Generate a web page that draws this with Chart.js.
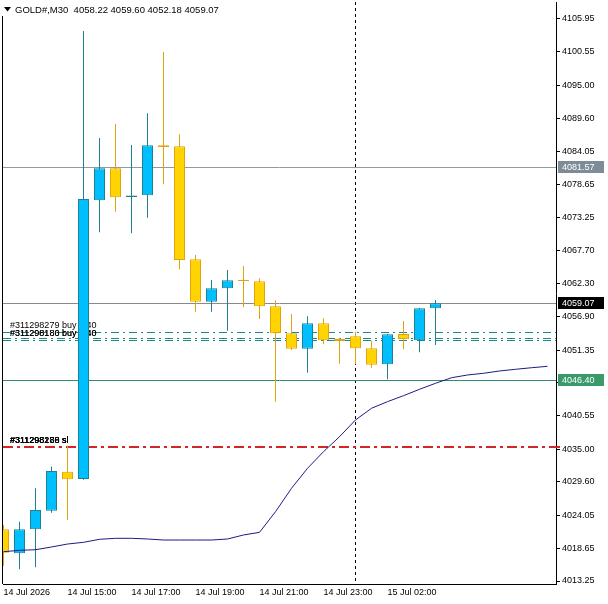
<!DOCTYPE html>
<html>
<head>
<meta charset="utf-8">
<script src="https://cdn.jsdelivr.net/npm/chart.js@4.4.1/dist/chart.umd.min.js"></script>
<style>
  html, body { margin: 0; padding: 0; background: #fff; }
  canvas { display: block; }
</style>
</head>
<body>
<canvas id="goldChart" width="608" height="604"></canvas>
<script>
// GOLD#, M30 candles (14 Jul 13:00 .. 15 Jul 03:30)
const times = ['14 Jul 13:00', '14 Jul 13:30', '14 Jul 14:00', '14 Jul 14:30', '14 Jul 15:00', '14 Jul 15:30',
  '14 Jul 16:00', '14 Jul 16:30', '14 Jul 17:00', '14 Jul 17:30', '14 Jul 18:00', '14 Jul 18:30',
  '14 Jul 19:00', '14 Jul 19:30', '14 Jul 20:00', '14 Jul 20:30', '14 Jul 21:00', '14 Jul 21:30',
  '14 Jul 22:00', '14 Jul 22:30', '14 Jul 23:00', '14 Jul 23:30', '15 Jul 01:00', '15 Jul 01:30',
  '15 Jul 02:00', '15 Jul 02:30', '15 Jul 03:00', '15 Jul 03:30'];
const opens = [4021.78, 4017.82, 4021.78, 4024.85, 4031.28, 4030.08, 4076.05, 4081.32, 4076.59, 4076.87,
  4085.12, 4084.95, 4066.31, 4059.32, 4061.53, 4062.92, 4062.68, 4058.56, 4054.11, 4051.57,
  4055.76, 4053.17, 4053.61, 4051.63, 4048.99, 4053.99, 4052.95, 4058.22];
const highs = [4022.49, 4023.03, 4028.54, 4032.10, 4035.57, 4103.97, 4086.32, 4088.63, 4085.17, 4090.40,
  4100.51, 4086.93, 4067.02, 4062.90, 4064.55, 4065.21, 4063.18, 4059.55, 4057.29, 4056.91,
  4056.58, 4053.38, 4054.37, 4052.89, 4054.00, 4056.14, 4058.30, 4059.60];
const lows = [4015.73, 4015.18, 4015.51, 4024.52, 4023.31, 4029.95, 4070.77, 4074.16, 4070.60, 4073.18,
  4078.68, 4064.66, 4057.67, 4057.67, 4054.54, 4058.40, 4056.47, 4042.82, 4051.35, 4047.61,
  4052.29, 4049.09, 4048.99, 4048.43, 4046.52, 4051.47, 4050.97, 4052.18];
const closes = [4017.92, 4021.78, 4024.96, 4031.39, 4030.03, 4076.26, 4081.32, 4076.54, 4076.84, 4085.12,
  4084.82, 4066.20, 4059.32, 4061.53, 4062.85, 4062.75, 4058.56, 4054.11, 4051.57, 4055.76,
  4052.95, 4052.84, 4051.63, 4048.93, 4053.94, 4053.12, 4058.23, 4059.07];

// shifted moving average (runs 7 bars past the last candle)
const maValues = [4018.08, 4018.31, 4018.41, 4018.86, 4019.35, 4019.63, 4020.13, 4020.29, 4020.29, 4020.18,
  4020.01, 4020.01, 4020.01, 4020.01, 4020.18, 4020.84, 4021.28, 4024.68, 4028.54, 4031.84,
  4034.58, 4037.05, 4039.81, 4041.74, 4042.83, 4043.82, 4044.87, 4045.86, 4046.78, 4047.23,
  4047.51, 4047.89, 4048.17, 4048.43, 4048.66];

const priceTicks = [4105.95, 4100.55, 4095.00, 4089.60, 4084.05, 4078.65, 4073.25, 4067.70, 4062.30,
  4056.90, 4051.35, 4045.95, 4040.55, 4035.00, 4029.60, 4024.05, 4018.65, 4013.25];
const timeTickIndex = [0, 4, 8, 12, 16, 20, 24];
const timeTickLabels = ['14 Jul 2026', '14 Jul 15:00', '14 Jul 17:00', '14 Jul 19:00', '14 Jul 21:00', '14 Jul 23:00', '15 Jul 02:00'];

const levelPrices = [4081.57, 4059.07, 4046.40];
const buyLevels = [4054.24, 4053.38, 4053.05];
const buyTickets = ['#311298279', '#311298180', '#311298186'];
const slLevel = 4035.35;
const slTickets = ['#311298180', '#311298186', '#311298279', '#311298288'];
const separatorIndex = 22;

const upFill = '#00bfff', upLine = '#1d8191';
const downFill = '#ffd400', downLine = '#e3a210';
const font = 'Liberation Sans';

const isUp = opens.map((o, i) => closes[i] >= o);

const overlay = {
  id: 'overlay',
  beforeDatasetsDraw(chart) {
    const { ctx, chartArea: a, scales: { x, y } } = chart;
    ctx.save();
    ctx.beginPath();
    ctx.rect(a.left, a.top, a.right - a.left, a.bottom - a.top);
    ctx.clip();

    const hline = (p, color, width, dash) => {
      const py = Math.round(y.getPixelForValue(p)) + (width % 2 ? 0.5 : 0);
      ctx.strokeStyle = color;
      ctx.lineWidth = width;
      ctx.setLineDash(dash);
      ctx.beginPath();
      ctx.moveTo(a.left, py);
      ctx.lineTo(a.right, py);
      ctx.stroke();
      return py;
    };

    // day separator
    const sx = Math.floor(x.getPixelForValue(separatorIndex)) + 0.5;
    ctx.strokeStyle = '#000';
    ctx.lineWidth = 1;
    ctx.setLineDash([3, 3]);
    ctx.beginPath();
    ctx.moveTo(sx, a.top);
    ctx.lineTo(sx, a.bottom);
    ctx.stroke();

    hline(levelPrices[0], '#8d9ba4', 1, []);
    hline(levelPrices[1], '#8a8a8a', 1, []);
    hline(levelPrices[2], '#2f8c72', 1, []);

    ctx.font = '9px "' + font + '"';
    ctx.fillStyle = '#000';
    ctx.textBaseline = 'alphabetic';
    buyLevels.forEach((p, i) => {
      const py = hline(p, '#17898c', 1, [8, 4, 2, 4]);
      ctx.fillText(buyTickets[i] + ' buy 0.40', 10, i === 0 ? py - 5 : y.getPixelForValue(buyLevels[1]) - 1.5);
    });

    const ry = hline(slLevel, '#d42626', 2, [10, 4, 3, 4]);
    slTickets.forEach(t => ctx.fillText(t + ' sl', 10, ry - 4));
    ctx.restore();
  },
  afterDraw(chart) {
    const { ctx, chartArea: a, scales: { y } } = chart;
    ctx.save();
    // left frame
    ctx.fillStyle = '#000';
    ctx.fillRect(Math.round(a.left) - 1, 16, 1, a.bottom - 16);
    // red sl tick on the price axis
    ctx.fillStyle = '#d42626';
    ctx.fillRect(a.right, Math.round(y.getPixelForValue(slLevel)) - 1, 4, 2);

    // header
    const n = closes.length - 1;
    ctx.fillStyle = '#000';
    ctx.beginPath();
    ctx.moveTo(4, 7); ctx.lineTo(11, 7); ctx.lineTo(7.5, 11.5); ctx.closePath();
    ctx.fill();
    ctx.font = '9.5px "' + font + '"';
    ctx.textBaseline = 'middle';
    ctx.fillText('GOLD#,M30  ' + [opens[n], highs[n], lows[n], closes[n]].map(v => v.toFixed(2)).join(' '), 15, 10);

    // price tags
    const tags = [
      { p: levelPrices[0], bg: '#7d8c96' },
      { p: closes[n], bg: '#000000' },
      { p: levelPrices[2], bg: '#3a9a6c' }
    ];
    ctx.font = '9px "' + font + '"';
    tags.forEach(t => {
      const py = Math.round(y.getPixelForValue(t.p));
      ctx.fillStyle = t.bg;
      ctx.fillRect(a.right + 2, py - 6, 46, 12);
      ctx.fillStyle = '#fff';
      ctx.fillText(t.p.toFixed(2), a.right + 6, py + 0.5);
    });
    ctx.restore();
  }
};

const xMin = -1 / 32;
const ctx = document.getElementById('goldChart').getContext('2d');

new Chart(ctx, {
  type: 'bar',
  data: {
    datasets: [
      {
        type: 'line',
        data: maValues.map((v, i) => ({ x: i, y: v })),
        borderColor: '#1b1b86',
        borderWidth: 1,
        pointRadius: 0,
        tension: 0,
        order: 0
      },
      {
        data: opens.map((o, i) => ({ x: i, y: [o, closes[i]] })),
        backgroundColor: isUp.map(u => u ? upFill : downFill),
        borderColor: isUp.map(u => u ? upLine : downLine),
        borderWidth: 1,
        borderSkipped: false,
        barThickness: 11,
        grouped: false,
        inflateAmount: 0,
        order: 1
      },
      {
        data: lows.map((l, i) => ({ x: i, y: [l, highs[i]] })),
        backgroundColor: isUp.map(u => u ? upLine : downLine),
        borderWidth: 0,
        barThickness: 1,
        grouped: false,
        inflateAmount: 0,
        order: 2
      }
    ]
  },
  options: {
    responsive: false,
    animation: false,
    devicePixelRatio: 1,
    layout: { padding: { left: 3, top: 2, right: 0, bottom: 0 } },
    plugins: {
      legend: { display: false },
      tooltip: { enabled: false }
    },
    scales: {
      x: {
        type: 'linear',
        offset: false,
        min: xMin,
        max: xMin + 553 / 16,
        afterBuildTicks: s => { s.ticks = timeTickIndex.map(v => ({ value: v })); },
        afterFit: s => { s.height = 20; s.paddingLeft = 0; s.paddingRight = 0; },
        grid: { display: false, drawTicks: false, offset: false },
        border: { display: true, color: '#000' },
        ticks: {
          align: 'start',
          padding: 3,
          maxRotation: 0,
          autoSkip: false,
          color: '#000',
          font: { family: font, size: 9 },
          callback: v => timeTickLabels[timeTickIndex.indexOf(v)]
        }
      },
      y: {
        position: 'right',
        min: 4013.25 - 3 / 6.0626,
        max: 4105.95 + 17 / 6.0626,
        afterBuildTicks: s => { s.ticks = priceTicks.map(v => ({ value: v })); },
        afterFit: s => { s.width = 52; s.paddingTop = 0; s.paddingBottom = 0; },
        grid: { drawOnChartArea: false, drawTicks: true, tickLength: 4, color: '#000' },
        border: { display: true, color: '#000' },
        ticks: {
          padding: 2,
          color: '#000',
          font: { family: font, size: 9 },
          callback: v => v.toFixed(2)
        }
      }
    }
  },
  plugins: [overlay]
});
</script>
</body>
</html>
